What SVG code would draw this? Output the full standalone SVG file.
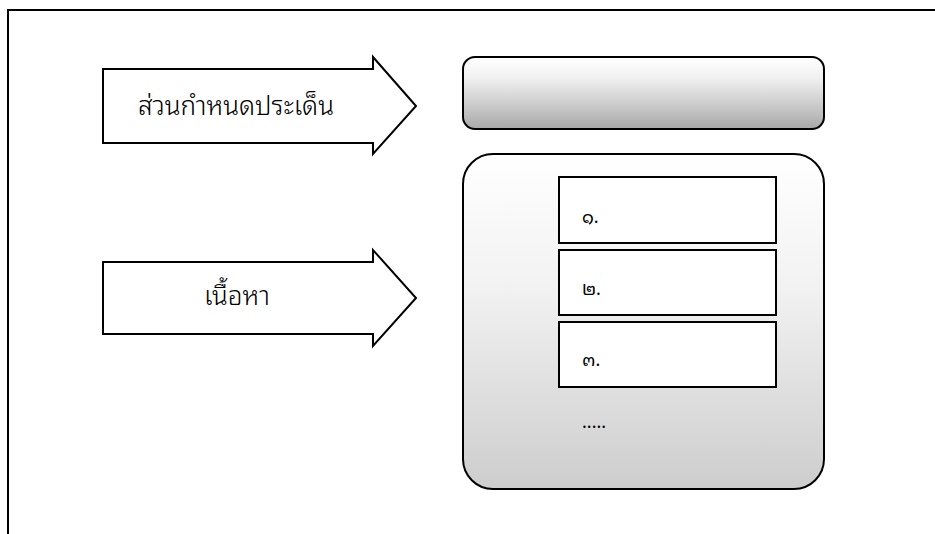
<svg xmlns="http://www.w3.org/2000/svg" width="935" height="534" viewBox="0 0 935 534">
<style>
.frame{fill:none;stroke:#000;stroke-width:2}
.arrow{fill:#fff;stroke:#000;stroke-width:2;stroke-linejoin:miter}
.lbl{font-family:"Noto Sans Thai Looped","Noto Sans Thai","Tahoma","Noto Sans","DejaVu Sans",sans-serif;font-size:26px;font-weight:300;fill:#000}
.box{fill:#fff;stroke:#000;stroke-width:2}
.num{font-family:"Noto Sans Thai Looped","Noto Sans Thai","Liberation Mono","DejaVu Sans Mono",monospace;font-size:18px;fill:#000}
.rr{stroke:#000;stroke-width:2}
</style>
<defs>
<linearGradient id="g1" x1="0" y1="0" x2="0" y2="1">
<stop offset="0" stop-color="#ffffff"/>
<stop offset="0.3" stop-color="#f0f0f0"/>
<stop offset="1" stop-color="#a9a9a9"/>
</linearGradient>
<linearGradient id="g2" x1="0" y1="0" x2="0" y2="1">
<stop offset="0" stop-color="#ffffff"/>
<stop offset="0.4" stop-color="#f2f2f2"/>
<stop offset="1" stop-color="#cdcdcd"/>
</linearGradient>
</defs>
<path class="frame" d="M8,534 V10 H935"/>
<g id="arrow-topic">
<path class="arrow" d="M103,69 H373 V57 L416,106 L373,154 V143 H103 Z"/>
<text class="lbl" x="138" y="115">ส่วนกำหนดประเด็น</text>
</g>
<g id="arrow-content">
<path class="arrow" d="M103,262 H373 V250 L416,298 L373,346 V334 H103 Z"/>
<text class="lbl" x="237" y="305" text-anchor="middle">เนื้อหา</text>
</g>
<g id="topic-box">
<rect class="rr" x="463" y="57" width="361" height="72" rx="12" fill="url(#g1)"/>
</g>
<g id="content-box">
<rect class="rr" x="463" y="154" width="361" height="335" rx="30" fill="url(#g2)"/>
</g>
<g id="item1">
<rect class="box" x="559" y="177" width="217" height="66"/>
<text class="num" x="582" y="223">๑.</text>
</g>
<g id="item2">
<rect class="box" x="559" y="250" width="217" height="65"/>
<text class="num" x="582" y="295">๒.</text>
</g>
<g id="item3">
<rect class="box" x="559" y="322" width="217" height="65"/>
<text class="num" x="582" y="366">๓.</text>
</g>
<g id="more">
<text class="num" x="582" y="428">.....</text>
</g>
<g id="connectors"></g>
</svg>
